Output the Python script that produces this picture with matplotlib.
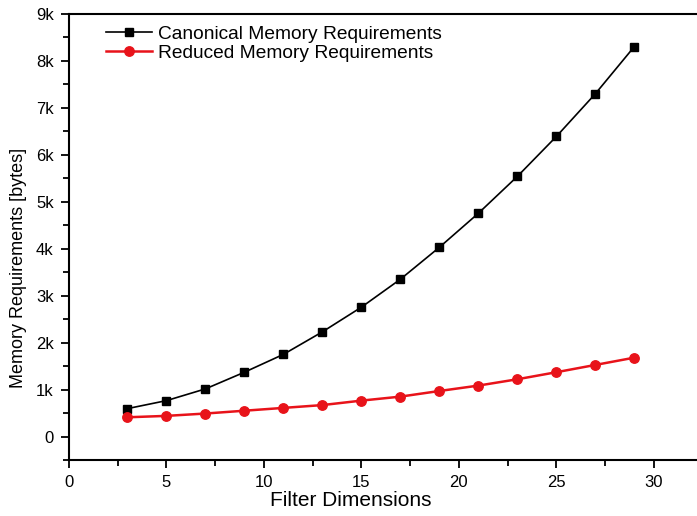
import matplotlib
matplotlib.use("Agg")
import matplotlib.pyplot as plt
from matplotlib.ticker import FuncFormatter, MultipleLocator

plt.rcParams['font.family'] = ['Liberation Sans', 'DejaVu Sans']

# filter sizes and memory use in bytes
filter_dims = [3, 5, 7, 9, 11, 13, 15, 17, 19, 21, 23, 25, 27, 29]
canonical = [595, 765, 1015, 1370, 1750, 2230, 2755, 3350, 4030, 4755, 5540, 6390, 7300, 8305]
reduced = [410, 440, 490, 550, 610, 670, 765, 850, 970, 1085, 1220, 1370, 1525, 1680]

fig = plt.figure(figsize=(6.97, 5.16), dpi=100)
ax = fig.add_axes([0.099, 0.1085, 0.909, 0.8645])

ax.plot(filter_dims, canonical, color='black', lw=1.2, marker='s', ms=5.5,
        label='Canonical Memory Requirements')
ax.plot(filter_dims, reduced, color='#e8131a', lw=1.8, marker='o', ms=6.8,
        label='Reduced Memory Requirements')

ax.set_xlim(0, 32.5)
ax.set_ylim(-500, 9000)
ax.xaxis.set_major_locator(MultipleLocator(5))
ax.xaxis.set_minor_locator(MultipleLocator(2.5))
ax.yaxis.set_major_locator(MultipleLocator(1000))
ax.yaxis.set_minor_locator(MultipleLocator(500))
ax.yaxis.set_major_formatter(FuncFormatter(lambda v, p: '0' if v == 0 else '%dk' % (v / 1000)))

ax.tick_params(which='both', direction='out', width=1.3, labelsize=12, colors='black')
ax.tick_params(which='major', length=6, pad=5)
ax.tick_params(which='minor', length=4)
for s in ['left', 'bottom', 'top']:
    ax.spines[s].set_linewidth(1.5)
ax.spines['right'].set_visible(False)

ax.set_xlabel('Filter Dimensions', fontsize=15)
ax.set_ylabel('Memory Requirements [bytes]', fontsize=13)
ax.xaxis.set_label_coords(0.445, -0.07)
ax.yaxis.set_label_coords(-0.066, 0.43)

ax.legend(loc='upper left', bbox_to_anchor=(0.04, 1.0), frameon=False,
          fontsize=13.8, handlelength=2.4, handletextpad=0.3, labelspacing=0.1,
          borderaxespad=0.2)

fig.savefig('out.png', dpi=100)
